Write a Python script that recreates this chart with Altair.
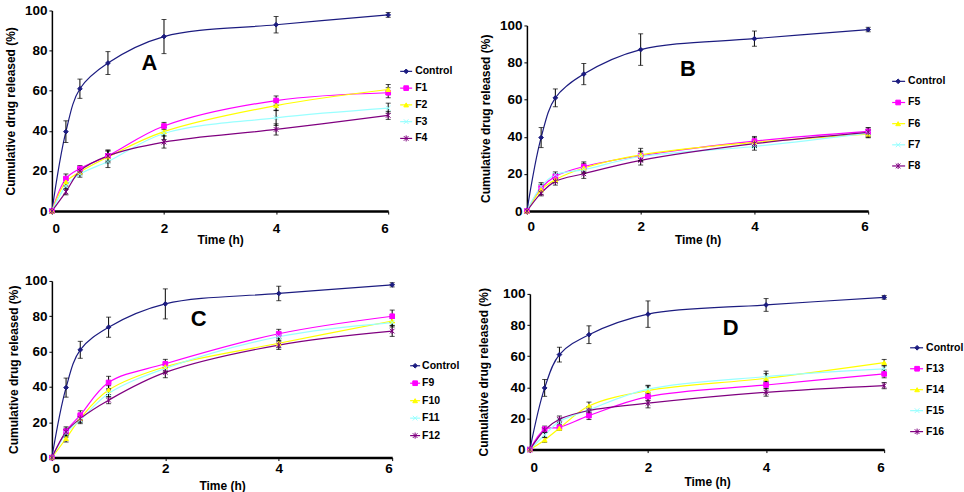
import altair as alt
import pandas as pd

FONT = "Liberation Sans"

hours = [0, 0.25, 0.5, 1, 2, 4, 6]

# Control (plain drug), repeated in every panel
control = [0, 39.6, 61.0, 73.8, 87.0, 92.9, 97.8]
control_sd = [0, 5.4, 4.8, 5.7, 8.5, 4.1, 1.2]

# Panel A
f1 = [0, 16.2, 21.2, 27.5, 42.4, 55.1, 59.0]
f1_sd = [0, 2.3, 1.5, 2.5, 1.8, 2.3, 2.5]
f2 = [0, 14.5, 19.5, 27.0, 39.6, 52.6, 60.6]
f2_sd = [0, 2.0, 1.5, 3.0, 2.0, 2.5, 2.5]
f3 = [0, 12.5, 18.4, 24.7, 38.7, 46.5, 51.3]
f3_sd = [0, 1.5, 1.5, 3.0, 3.0, 3.8, 2.5]
f4 = [0, 9.6, 20.0, 27.5, 34.4, 40.7, 47.7]
f4_sd = [0, 1.5, 1.5, 3.0, 3.0, 2.8, 2.0]

# Panel B
f5 = [0, 12.4, 18.7, 24.0, 29.8, 37.7, 42.9]
f5_sd = [0, 2.0, 1.5, 2.5, 2.5, 2.5, 2.0]
f6 = [0, 11.5, 16.9, 23.2, 30.3, 37.0, 41.5]
f6_sd = [0, 2.5, 1.5, 2.5, 3.5, 2.5, 2.0]
f7 = [0, 13.3, 19.6, 22.3, 29.4, 34.8, 42.0]
f7_sd = [0, 2.0, 1.5, 2.0, 2.5, 2.0, 2.0]
f8 = [0, 9.7, 16.0, 20.1, 27.3, 36.3, 42.4]
f8_sd = [0, 1.5, 2.0, 2.5, 2.5, 2.0, 2.5]

# Panel C
f9 = [0, 14.9, 24.0, 42.5, 53.1, 70.1, 80.0]
f9_sd = [0, 2.5, 2.5, 3.5, 2.5, 2.5, 3.5]
f10 = [0, 10.8, 22.1, 38.2, 51.4, 64.7, 77.3]
f10_sd = [0, 2.0, 2.0, 2.5, 2.5, 2.5, 2.5]
f11 = [0, 13.6, 21.2, 36.3, 50.5, 68.4, 76.4]
f11_sd = [0, 2.0, 2.0, 2.0, 2.5, 2.5, 2.5]
f12 = [0, 14.6, 22.1, 32.5, 48.2, 63.7, 71.6]
f12_sd = [0, 2.0, 2.0, 2.0, 3.0, 2.5, 3.0]

# Panel D
f13 = [0, 13.1, 14.3, 21.8, 34.0, 41.5, 48.6]
f13_sd = [0, 2.0, 1.5, 2.5, 2.5, 2.5, 2.5]
f14 = [0, 6.2, 13.7, 28.0, 37.9, 45.8, 55.9]
f14_sd = [0, 1.5, 1.5, 2.5, 3.0, 3.0, 2.0]
f15 = [0, 9.4, 18.0, 25.5, 38.8, 46.9, 51.8]
f15_sd = [0, 1.5, 1.5, 2.0, 2.5, 3.5, 2.0]
f16 = [0, 12.6, 19.5, 25.1, 29.8, 36.8, 41.1]
f16_sd = [0, 1.5, 2.0, 2.0, 3.0, 2.5, 2.0]

names_a = ["Control", "F1", "F2", "F3", "F4"]
names_b = ["Control", "F5", "F6", "F7", "F8"]
names_c = ["Control", "F9", "F10", "F11", "F12"]
names_d = ["Control", "F13", "F14", "F15", "F16"]

# style slot per position in a panel: control, then four formulations
slot_colors = ["#1c1c80", "#ff00ff", "#ffff00", "#99ffff", "#800080"]
slot_shapes = [
    "diamond",
    "square",
    "triangle-up",
    "M-1,-1L1,1M-1,1L1,-1",
    "M-1,-1L1,1M-1,1L1,-1M0,-1.3L0,1.3",
]

# one global mapping so the concatenated panels can share the scales
all_names = ["Control"]
all_colors = [slot_colors[0]]
all_shapes = [slot_shapes[0]]
for group in (names_a, names_b, names_c, names_d):
    for k, name in enumerate(group[1:], start=1):
        all_names.append(name)
        all_colors.append(slot_colors[k])
        all_shapes.append(slot_shapes[k])

COLOR_SCALE = alt.Scale(domain=all_names, range=all_colors)
SHAPE_SCALE = alt.Scale(domain=all_names, range=all_shapes)

Y_TITLE = "Cumulative drug released (%)"
X_TITLE = "Time (h)"


def build_table(names, values, sds):
    rows = []
    for k, (name, vals, sd) in enumerate(zip(names, values, sds)):
        for t, v, s in zip(hours, vals, sd):
            rows.append({"series": name, "order": k, "t": t, "v": v,
                         "sd": s, "lo": v - s, "hi": v + s})
    return pd.DataFrame(rows)


def panel(letter, names, values, sds, width, height, letter_pos,
          leg, label_pad_x, title_pad_x, title_pad_y):
    df = build_table(names, values, sds)

    x_enc = alt.X("t:Q", title=X_TITLE,
                  scale=alt.Scale(domain=[0, 6], nice=False),
                  axis=alt.Axis(values=[0, 2, 4, 6], labelPadding=label_pad_x,
                                titlePadding=title_pad_x, tickSize=3))
    y_axis = alt.Axis(values=[0, 20, 40, 60, 80, 100], labelPadding=2,
                      titlePadding=title_pad_y, tickSize=3)
    y_scale = alt.Scale(domain=[0, 100], nice=False)
    y_val = alt.Y("v:Q", title=Y_TITLE, scale=y_scale, axis=y_axis)

    color = alt.Color("series:N", scale=COLOR_SCALE, legend=None)
    fill = alt.Fill("series:N", scale=COLOR_SCALE, legend=None)
    shape = alt.Shape("series:N", scale=SHAPE_SCALE, legend=None)

    base = alt.Chart(df)
    lines = base.mark_line(interpolate="catmull-rom", strokeWidth=1.2).encode(
        x=x_enc, y=y_val, color=color, detail="series:N",
    )
    bars = base.transform_filter("datum.sd > 0").mark_errorbar(
        ticks=True, size=5, thickness=1, color="black"
    ).encode(
        x=x_enc,
        y=alt.Y("lo:Q", title=Y_TITLE, scale=y_scale, axis=y_axis),
        y2="hi:Q",
        detail="series:N",
    )
    points = base.mark_point(size=22, strokeWidth=1, opacity=1).encode(
        x=x_enc, y=y_val, color=color, fill=fill, shape=shape,
    )
    tag = alt.Chart(pd.DataFrame({"t": [letter_pos[0]], "v": [letter_pos[1]],
                                  "label": [letter]})).mark_text(
        font=FONT, fontSize=22, fontWeight="bold", color="black"
    ).encode(x=x_enc, y=y_val, text="label:N")
    main = alt.layer(lines, bars, points, tag)

    # legend block to the right of the plot: line + marker + name per series
    ldf = pd.DataFrame({"series": names})
    y0, step, l0, l1, mx, tx, fs = leg
    ly = alt.Y("series:N", sort=names, axis=None,
               scale=alt.Scale(type="point", domain=names, padding=0,
                               range=[y0, y0 + step * (len(names) - 1)]))
    lbase = alt.Chart(ldf)
    leg_line = lbase.mark_rule(strokeWidth=1.2).encode(
        x=alt.value(width + l0), x2=alt.value(width + l1), y=ly, color=color,
    )
    leg_mark = lbase.mark_point(size=22, strokeWidth=1, opacity=1).encode(
        x=alt.value(width + mx), y=ly, color=color, fill=fill, shape=shape,
    )
    leg_text = lbase.mark_text(align="left", baseline="middle", font=FONT,
                               fontSize=fs, fontWeight="bold",
                               color="black").encode(
        x=alt.value(width + tx), y=ly, text="series:N",
    )
    legend = alt.layer(leg_line, leg_mark, leg_text)

    return alt.layer(main, legend).resolve_scale(y="independent").properties(
        width=width, height=height)


def spacer(h):
    return alt.Chart(pd.DataFrame({"s": [0]})).mark_point(opacity=0).properties(
        width=1, height=h)


pa = panel("A", names_a, [control, f1, f2, f3, f4],
           [control_sd, f1_sd, f2_sd, f3_sd, f4_sd],
           337, 201, (1.74, 74), (61, 16.8, 12, 24, 18, 27, 10.5), 7, 0, 7)
pb = panel("B", names_b, [control, f5, f6, f7, f8],
           [control_sd, f5_sd, f6_sd, f7_sd, f8_sd],
           342, 186, (2.83, 76.7), (56, 21.2, 24, 37, 30, 40, 10.5), 5, 2, 7)
pc = panel("C", names_c, [control, f9, f10, f11, f12],
           [control_sd, f9_sd, f10_sd, f11_sd, f12_sd],
           341, 177, (2.59, 78.3), (85, 17.5, 18, 28, 23, 30, 10.5), 1, 6, 4)
pd_ = panel("D", names_d, [control, f13, f14, f15, f16],
            [control_sd, f13_sd, f14_sd, f15_sd, f16_sd],
            355, 156, (3.4, 78), (54, 21, 26, 39, 33, 42, 10.5), 8, 2, 12)

top = alt.hconcat(pa, alt.vconcat(spacer(8), pb, spacing=0), spacing=26)
bottom = alt.hconcat(pc, alt.vconcat(spacer(6), pd_, spacing=0), spacing=17)

chart = alt.vconcat(top, bottom, spacing=28).properties(
    padding={"left": 4, "top": 3, "right": 0, "bottom": 0}
).configure_view(stroke=None).configure_axis(
    grid=False, domainColor="black", tickColor="black",
    labelColor="black", titleColor="black",
    labelFont=FONT, titleFont=FONT, labelFontWeight="bold",
    titleFontWeight="bold", labelFontSize=13.5, titleFontSize=12,
).configure_axisX(domainWidth=2.5).configure_axisY(domainWidth=1.5)

chart.save("out.html", embed_options={"renderer": "svg", "actions": False})
